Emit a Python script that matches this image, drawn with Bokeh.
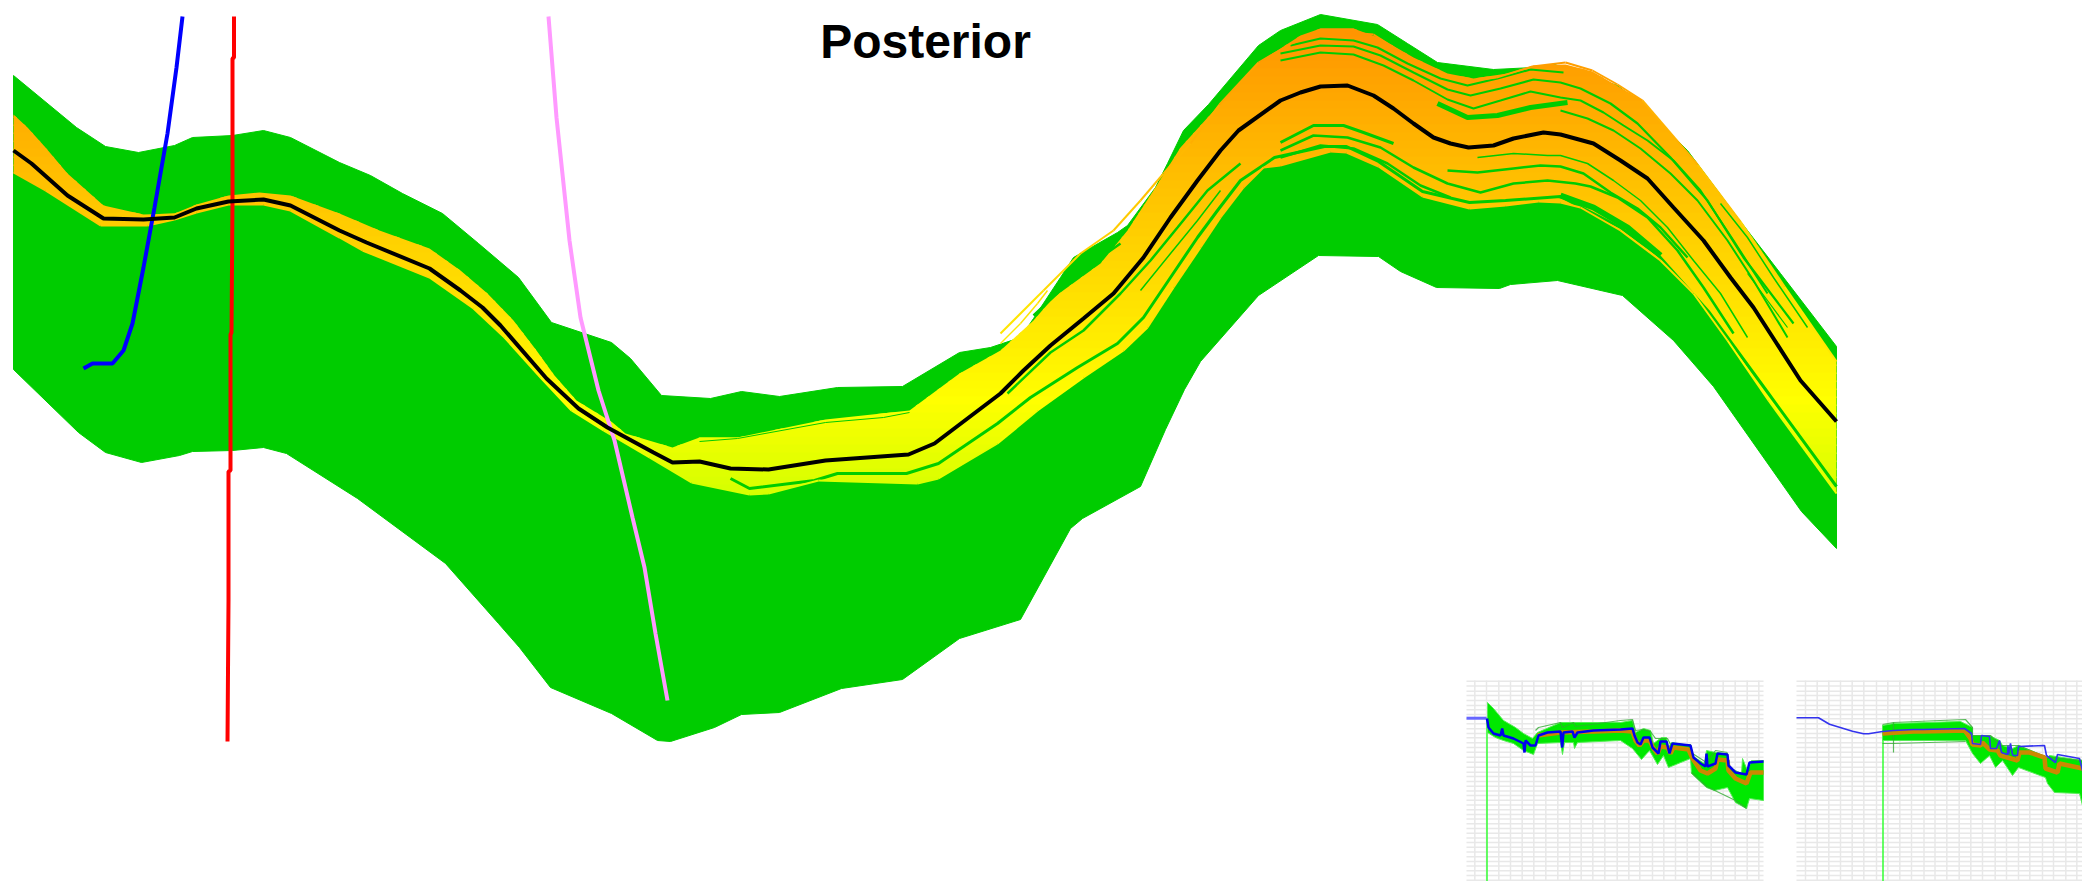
import numpy as np
from bokeh.plotting import figure
from bokeh.models import Range1d
from bokeh.embed import file_html
from bokeh.resources import INLINE
from bokeh.core.properties import value

# ---- main panel, read in picture pixels ----
env_up_x = [13,76,105,138,174,192,232,263,290,339,370,402,442,478,518,551,611,630,661,710,741,779,837,902,959,990,1020,1033,1060,1073,1117,1127,1155,1167,1183,1208,1258,1280,1320,1377,1407,1437,1493,1533,1554,1617,1640,1687,1737,1780,1836]
env_up_y = [75,127,146,152,145,137,135,130,137,162,175,193,213,243,277,322,342,358,395,398,391,396,387,386,352,347,337,318,277,257,232,225,187,163,130,104,45,30,14,24,43,62,69,67,64,85,103,150,217,273,346]
env_lo_x = [13,78,105,141,179,192,232,263,286,357,445,498,519,550,611,657,670,714,741,779,841,902,959,1020,1070,1082,1140,1165,1184,1200,1258,1318,1378,1400,1436,1499,1510,1557,1622,1673,1713,1801,1836]
env_lo_y = [369,432,452,462,455,451,450,447,453,498,563,623,647,687,713,740,741,727,714,712,688,679,638,619,528,518,486,429,389,361,295,255,256,271,287,288,284,280,295,340,386,511,548]

band_up_x = [13,27,45,67,103,143,174,196,228,259,290,339,379,429,460,487,513,536,554,576,612,625,672,699,737,825,909,959,1000,1033,1053,1100,1127,1153,1180,1219,1258,1280,1300,1320,1353,1380,1413,1447,1473,1507,1533,1565,1592,1642,1697,1740,1784,1836]
band_up_y = [114,127,147,173,205,214,213,204,195,192,195,213,230,248,270,293,320,350,375,400,422,433,447,437,437,419,410,373,350,320,297,263,230,190,147,104,62,48,35,28,28,38,57,73,78,73,65,64,71,100,164,221,286,361]
band_lo_x = [13,45,100,147,174,196,228,263,290,339,362,429,473,504,540,571,603,649,691,749,768,818,917,938,997,1037,1083,1123,1147,1173,1200,1220,1243,1263,1280,1330,1346,1378,1422,1469,1505,1538,1560,1580,1620,1660,1693,1727,1768,1836]
band_lo_y = [172,190,225,225,219,212,204,204,210,237,250,277,308,337,377,410,430,457,482,494,493,480,483,478,443,410,377,350,327,287,247,217,187,167,165,151,152,166,196,208,205,201,202,207,230,260,293,340,400,493]

median_x = [13,31,67,103,143,174,196,228,263,290,339,366,429,460,482,500,546,578,607,653,672,699,730,768,825,908,934,1000,1023,1050,1083,1113,1143,1170,1197,1220,1238,1280,1300,1320,1347,1373,1393,1413,1433,1450,1468,1493,1513,1543,1560,1593,1620,1647,1673,1703,1730,1753,1773,1800,1836]
median_y = [150,163,195,218,219,217,208,201,199,205,230,242,268,290,307,325,378,408,427,452,462,461,468,469,460,454,443,393,370,345,318,293,257,217,180,150,130,100,92,86,85,95,108,123,137,143,147,145,138,132,134,143,160,178,207,240,277,307,338,380,421]

outlier_up_x = [1000,1043,1080,1113,1140,1163,1190,1219,1258,1291,1324,1373,1406,1439,1472,1496,1532,1565,1592,1617,1642,1697,1740,1784,1836]
outlier_up_y = [333,290,253,230,200,173,143,104,62,43,30,34,55,73,80,77,66,62,70,84,100,164,221,286,361]
outlier2_x = [1000,1020,1037,1047]
outlier2_y = [343,323,303,290]

gaps = [
 ([1290,1320,1353,1377,1407,1440,1467,1497,1530,1563],[45,38,40,47,63,78,85,78,69,72],2.2),
 ([1280,1320,1353,1380,1413,1447,1470,1500,1533,1560,1580,1610,1637,1670,1707,1743,1793],[53,45,46,55,72,89,95,88,79,82,88,103,123,157,200,257,323],2.2),
 ([1280,1320,1353,1383,1413,1447,1473,1500,1530,1560,1580,1603,1623,1647,1673,1700,1733,1767],[60,52,54,65,80,99,108,100,91,97,100,112,125,140,160,190,240,293],2),
 ([1437,1467,1497,1530,1567],[103,117,115,107,102],5),
 ([1560,1587,1613,1640,1670,1697,1727,1753,1787],[110,118,130,148,173,200,240,280,337],2),
 ([1280,1313,1343,1363,1393],[142,125,125,132,143],3),
 ([1477,1513,1547,1560,1587,1613,1640,1667,1693,1720,1747],[157,153,155,155,163,180,200,227,260,293,337],1.5),
 ([1447,1477,1513,1540,1560,1583,1610,1637,1660,1687],[170,172,168,165,166,173,192,208,227,257],2.5),
 ([1280,1313,1347,1380,1413,1447,1480,1513,1547,1575,1590,1617,1647,1677,1703,1733],[150,135,137,147,167,183,192,183,180,183,186,197,217,250,287,333],2.5),
 ([1280,1320,1353,1387,1420,1450],[157,145,148,163,185,197],2.5),
 ([1720,1747,1773,1807],[203,237,277,327],1.5),
 ([1747,1767,1787],[273,300,327],1.2),
 ([1007,1050,1083,1120,1150,1177,1207,1240],[393,352,330,293,260,227,190,163],2.5),
 ([1033,1063,1100,1120],[315,287,257,243],2.5),
 ([1140,1170,1197,1220],[290,253,220,190],1.5),
 ([699,737,825,883,909],[441,438,422,417,412],1),
 ([1560,1593,1627,1660],[195,207,227,255],6),
]
gap_low_x = [730,749,814,837,906,938,997,1030,1077,1117,1143,1170,1197,1217,1240,1274,1324,1346,1378,1422,1469,1505,1560,1620,1658,1708,1768,1836]
gap_low_y = [478,488,480,473,473,463,423,397,367,343,317,277,237,210,180,157,146,146,161,191,202,200,196,227,255,311,393,486]

blue_x = [182,176,167,154,143,132,123,112,92,83]
blue_y = [16,67,133,207,267,323,350,363,363,368]
red_x = [233.5,233.5,232,232,231,230,230,228,228,227]
red_y = [16,57,58,200,332,334,470,471,600,741]
pink_x = [548,556,569,580,598,614,632,644,655,667]
pink_y = [16,117,240,317,390,440,517,567,633,700]

title_text = "Posterior"

# ---- small panels ----
grid_y = [680.7,685.6,690.7,695,700,705,709.3,714,718.3,723.3,728.3,733,737.3,742.3,747,751.7,756.7,761.7,766.7,771.7,776,781,785.7,790.4,795.1,799.8,804.5,809.2,813.9,818.6,823.3,828,832.7,837.4,842.1,846.8,851.5,856.2,860.9,865.6,870.3,875,879.7]
gridL_x = [1474.3,1486,1498.3,1510,1521.7,1533.3,1545.3,1557.3,1569.3,1580.7,1592.3,1604.3,1616.7,1628.3,1639.3,1652,1663.3,1675,1686.7,1698.7,1710.7,1722.7,1734.7,1746.7,1758.3]
gridR_x = [1805,1816.7,1828.3,1840,1851.7,1863.3,1876,1887.3,1899.3,1911,1923.5,1934.5,1946.3,1958.7,1970.3,1982,1994.7,2006,2018,2029.3,2042,2053,2065.3,2076.3]

L_mass_up_x = [1487,1493,1503,1515,1523,1532,1537,1560,1620,1632,1635,1643,1650,1653,1661,1666,1668,1671,1690,1691,1704,1706,1715,1727,1729,1741,1742,1747,1751,1763]
L_mass_up_y = [702,708,720,727,733,738,732,722,722,720,732,728,730,743,737,737,747,742,745,755,763,750,752,753,767,773,758,770,760,760]
L_mass_lo_x = [1487,1495,1503,1513,1523,1533,1537,1560,1562,1564,1573,1574,1577,1620,1632,1641,1649,1657,1663,1668,1690,1691,1706,1714,1727,1735,1746,1749,1763]
L_mass_lo_y = [732,737,740,743,750,754,743,742,754,742,742,748,742,740,748,759,750,764,755,767,758,773,787,790,787,802,808,798,800]
L_flat_x = [1466,1486]
L_flat_y = [717.7,717.7]
L_obs_x = [1486.5,1488,1493,1500,1501.7,1503,1513,1523,1524,1525,1530,1535,1538,1547,1560,1561.7,1563,1572,1574,1577,1593,1620,1632,1634,1637,1640,1643,1649,1652,1655,1658,1660,1666,1669,1672,1690,1693,1700,1705,1706,1707,1715,1717,1727,1728,1735,1746,1749,1763]
L_obs_y = [718,727,733,735,728,735,738,743,752,740,745,745,735,732,731,747,732,731,737,732,730,729,728,735,742,744,737,737,747,750,753,741,741,753,743,745,757,763,766,753,766,763,753,754,765,772,774,762,761]
L_core_x = [1537,1560,1593,1620,1632,1635,1639,1643,1649,1653,1657,1660,1667,1670,1673,1688,1692,1700,1707,1715,1717,1727,1728,1735,1746,1750,1763]
L_core_y = [735,732,731,730,731,740,745,740,740,748,753,746,747,753,747,749,758,770,773,768,759,760,770,778,783,772,772]
L_hi_x = [1535,1538,1560,1562,1573,1575,1620,1632,1635,1643,1650,1655,1660,1667,1670,1690,1692,1706,1715,1727]
L_hi_y = [730,727,722,727,722,726,720,719,730,729,731,738,738,738,744,744,753,762,750,752]
L_lo_x = [1691,1706,1735,1746]
L_lo_y = [772,786,800,808]

R_mass_up_x = [1882,1893,1960,1972,1972,1989,1999,2002,2012,2018,2047,2049,2082]
R_mass_up_y = [725,723,721,727,735,735,740,745,748,745,757,755,760]
R_mass_lo_x = [1882,1893,1965,1972,1980,1989,1995,2002,2012,2018,2045,2047,2054,2079,2082]
R_mass_lo_y = [740,740,740,753,763,755,767,760,775,767,777,783,792,793,805]
R_obs_x = [1796,1818,1829,1852,1863,1868,1882,1893,1913,1922,1964,1971,1972,1980,1981,1989,1990,1996,1999,2001,2007,2007.5,2008,2010,2012,2013,2017,2018,2044,2046,2055,2057,2079,2082]
R_obs_y = [717.3,717.3,723.7,730.7,733.3,733.3,731,730,729,729,728,733,743,744,735,736,748,748,740,752,754,745,754,743,754,755,755,746,745,755,762,754,758,770]
R_core_x = [1882,1913,1922,1964,1970,1972,1980,1982,1989,1997,2000,2017,2019,2029,2044,2045,2057,2059,2082]
R_core_y = [733,731,731,730,738,744,745,742,749,750,755,760,752,752,757,768,772,763,768]
R_hi_x = [1882,1893,1940,1965,1972,1972,1990,2000,2018,2047,2082]
R_hi_y = [724,722,720,719,727,735,735,745,745,757,760]
R_under_x = [1882,1893,1965]
R_under_y = [743,743,741]
R_spike_x = [1893,1893]
R_spike_y = [722,752]

GREEN = "#00cc00"

def hot(y):
    """Band colour seen at a given height of the picture."""
    g = 149 + (y - 30) * 106 / 370
    if g <= 255:
        return "#ff%02x00" % int(max(g, 140))
    r = max(255 - (y - 400) * 0.45, 200)
    return "#%02xff00" % int(r)

def clip(poly, y0, y1):
    def half(pts, keep, inter):
        out = []
        for i, a in enumerate(pts):
            b = pts[(i + 1) % len(pts)]
            if keep(a):
                out.append(a)
            if keep(a) != keep(b):
                out.append(inter(a, b))
        return out
    def at(level):
        def f(a, b):
            t = (level - a[1]) / (b[1] - a[1])
            return (a[0] + t * (b[0] - a[0]), level)
        return f
    p1 = half(poly, lambda q: q[1] >= y0, at(y0))
    if not p1:
        return []
    return half(p1, lambda q: q[1] <= y1, at(y1))

p = figure(width=2082, height=881, output_backend="svg", toolbar_location=None,
           x_range=Range1d(0, 2082), y_range=Range1d(881, 0), min_border=0,
           outline_line_color=None)
p.xaxis.visible = False
p.yaxis.visible = False
p.xgrid.visible = False
p.ygrid.visible = False

# green envelope
p.patch(env_up_x + env_lo_x[::-1], env_up_y + env_lo_y[::-1], fill_color=GREEN, line_color=GREEN, line_width=1)

# band filled by height: slabs overlap a little, so no seams show
poly = list(zip(band_up_x, band_up_y)) + list(zip(band_lo_x[::-1], band_lo_y[::-1]))
xs, ys, cs = [], [], []
levels = list(range(20, 510, 8))
for lo, hi in zip(levels[:-1], levels[1:]):
    c = clip(poly, lo, hi + 1.5)
    if c:
        xs.append([q[0] for q in c])
        ys.append([q[1] for q in c])
        cs.append(hot((lo + hi) / 2))
p.patches(xs, ys, fill_color=cs, line_color=None)

def hot_line(x, y, w):
    x = np.array(x, float); y = np.array(y, float)
    cols = [hot(v) for v in (y[:-1] + y[1:]) / 2]
    p.segment(x[:-1], y[:-1], x[1:], y[1:], line_color=cols, line_width=w)

for gx, gy, gw in gaps:
    p.line(gx, gy, line_color=GREEN, line_width=gw)
p.line(gap_low_x, gap_low_y, line_color=GREEN, line_width=3)
hot_line(outlier_up_x, outlier_up_y, 2)
hot_line(outlier2_x, outlier2_y, 1.5)
hot_line(band_lo_x, band_lo_y, 2)

p.line(blue_x, blue_y, line_color="#0000ff", line_width=4)
p.line(red_x, red_y, line_color="#ff0000", line_width=4)
p.line(pink_x, pink_y, line_color="#ff99ff", line_width=4)
p.line(median_x, median_y, line_color="#000000", line_width=4)

p.text([925], [41], text=[title_text], text_font=value("Liberation Sans"), text_font_style="bold",
       text_font_size="48px", text_align="center", text_baseline="middle", text_color="#000000")

# small panels
GRID = "#e8e8e8"
for x0, x1, gx in [(1466, 1763, gridL_x), (1796, 2082, gridR_x)]:
    p.segment([x0] * len(grid_y), grid_y, [x1] * len(grid_y), grid_y, line_color=GRID, line_width=1.5)
    p.segment(gx, [680] * len(gx), gx, [881] * len(gx), line_color=GRID, line_width=1.5)

p.line([1486.5, 1486.5], [717, 881], line_color="#33ff33", line_width=1.5)
p.line([1882.5, 1882.5], [725, 881], line_color="#33ff33", line_width=1.5)

p.patch(L_mass_up_x + L_mass_lo_x[::-1], L_mass_up_y + L_mass_lo_y[::-1], fill_color="#00e800", line_color="#55ee55", line_width=1)
p.patch(R_mass_up_x + R_mass_lo_x[::-1], R_mass_up_y + R_mass_lo_y[::-1], fill_color="#00e800", line_color="#55ee55", line_width=1)
for hx, hy in [(L_hi_x, L_hi_y), (L_lo_x, L_lo_y), (R_hi_x, R_hi_y), (R_under_x, R_under_y), (R_spike_x, R_spike_y)]:
    p.line(hx, hy, line_color="#33aa33", line_width=1.2, line_alpha=0.8)

p.line(L_core_x, L_core_y, line_color="#cc8800", line_width=4.5)
p.line(R_core_x, R_core_y, line_color="#cc8800", line_width=4.5)
p.line(L_flat_x, L_flat_y, line_color="#6666ff", line_width=3)
p.line(L_obs_x, L_obs_y, line_color="#0000ee", line_width=2.5)
p.line(R_obs_x, R_obs_y, line_color="#3333ee", line_width=1.6)

open("out.html", "w").write(file_html(p, INLINE))
